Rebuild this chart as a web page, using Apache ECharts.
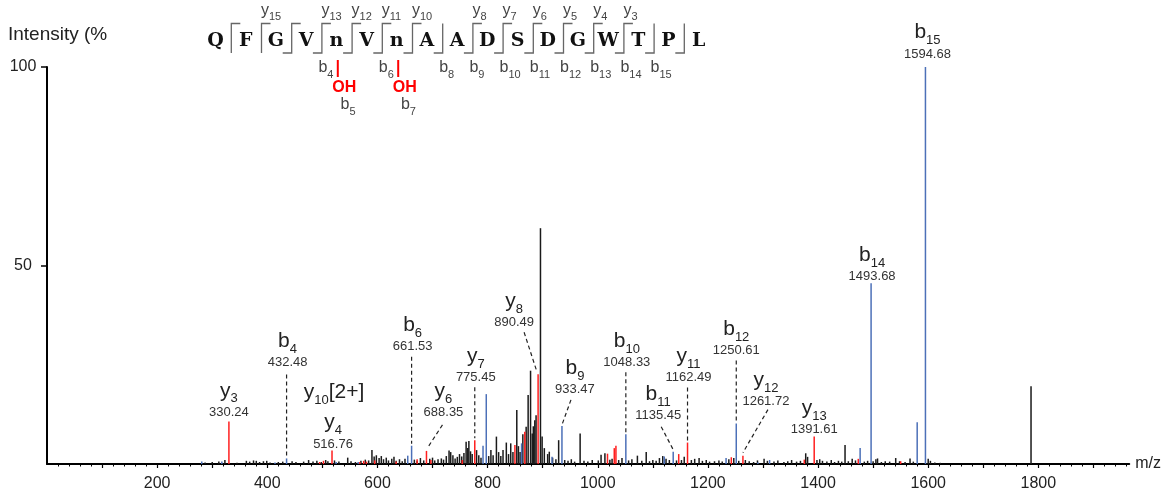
<!DOCTYPE html>
<html><head><meta charset="utf-8">
<script src="https://cdn.jsdelivr.net/npm/echarts@6/dist/echarts.min.js"></script>
<style>html,body{margin:0;padding:0;background:#fff}#main{width:1164px;height:495px}</style>
</head><body><div id="main"></div>
<script>
// ---------------- DATA ----------------
const xTickValues = [100,200,300,400,500,600,700,800,900,1000,1100,1200,1300,1400,1500,1600,1700,1800,1900];
const xLabelValues = [200,400,600,800,1000,1200,1400,1600,1800];
const yLabelValues = [50,100];

const blackPeaks = [[287,0.4],[300,0.5],[312,0.6],[323,1.0],[345,0.3],[362,0.8],[368,0.6],[375,0.9],[380,0.8],[386,0.5],[393,0.7],[399,0.8],[405,0.4],[420,0.5],[428,0.6],[445,0.7],[452,0.5],[466,0.6],[475,1.0],[483,0.6],[490,0.8],[498,0.5],[506,1.0],[510,0.7],[522,0.9],[530,0.6],[546,1.6],[552,0.7],[560,0.5],[570,0.8],[578,1.1],[584,0.9],[590,3.5],[594,1.9],[598,2.2],[603,1.5],[607,2.0],[611,1.2],[616,1.6],[620,0.9],[626,1.3],[630,1.8],[634,0.8],[640,1.2],[645,0.7],[650,1.3],[667,1.1],[672,0.8],[678,1.5],[684,0.9],[695,1.3],[700,1.6],[704,0.9],[710,1.2],[716,1.4],[720,1.1],[725,2.0],[730,3.4],[733,3.0],[737,2.2],[741,1.4],[745,1.8],[749,2.5],[753,1.9],[757,2.8],[761,5.6],[764,4.0],[766,5.8],[769,3.2],[772,2.5],[780,3.5],[784,2.2],[788,1.6],[802,2.0],[806,3.5],[810,2.2],[816,6.9],[820,3.0],[824,2.0],[828,3.5],[834,5.4],[838,2.5],[842,5.2],[846,3.0],[853,13.6],[856,4.5],[859,3.0],[864,7.5],[870,9.4],[873.6,17.4],[878,23.5],[881,7.7],[883,9.5],[885.7,11.0],[888,12.3],[896,59.4],[899,6.9],[903,4.0],[909,2.5],[912,3.1],[918,1.6],[924,1.2],[929,6.0],[940,1.0],[946,0.8],[952,1.2],[958,0.6],[968,7.7],[975,0.8],[982,0.6],[990,1.0],[1001,0.9],[1006,2.3],[1013,2.7],[1022,1.1],[1026,1.3],[1038,1.0],[1044,1.5],[1056,0.9],[1062,1.2],[1072,2.1],[1080,0.8],[1088,3.0],[1094,0.7],[1100,1.0],[1106,0.8],[1112,1.5],[1118,2.0],[1124,1.3],[1130,1.0],[1143,0.9],[1152,1.0],[1157,1.8],[1170,1.0],[1176,1.3],[1184,1.5],[1190,0.8],[1197,1.0],[1203,0.6],[1212,0.7],[1220,0.9],[1226,0.6],[1238,1.2],[1247,1.5],[1256,0.8],[1268,1.0],[1275,0.7],[1283,0.5],[1290,0.9],[1302,1.3],[1308,0.8],[1320,0.6],[1327,0.9],[1338,0.5],[1345,0.7],[1352,1.0],[1361,0.6],[1368,0.8],[1377.6,2.7],[1381,1.8],[1398,1.0],[1403,1.2],[1408,0.8],[1416,0.6],[1424,1.0],[1430,0.5],[1437,0.8],[1443,0.6],[1449,4.8],[1455,0.7],[1462,1.3],[1468,0.9],[1484,0.6],[1490,0.8],[1500,0.7],[1505,1.2],[1508,1.4],[1515,0.5],[1522,0.7],[1530,0.6],[1541,1.5],[1548,0.7],[1558,0.5],[1567,1.4],[1573,0.6],[1600,1.3],[1604,0.8],[1612,0.4],[1622,0.3],[1786.7,19.6]];

const redPeaks = [[330.3,10.7],[495,0.5],[502,0.8],[517.5,3.4],[568,0.5],[575,0.8],[580,0.6],[595,0.9],[634,0.6],[672,1.2],[689,3.3],[697,1.0],[754,1.0],[776.7,6.0],[849.6,4.8],[867.5,8.1],[891.7,22.6],[1017.7,2.6],[1030,4.0],[1033,4.6],[1147,2.5],[1163,5.4],[1242.5,1.7],[1263.6,2.1],[1375,1.1],[1393,6.9],[1473,1.3],[1550,0.7]];

const bluePeaks = [[281,0.6],[317.5,0.6],[414,0.4],[435,1.4],[525,0.5],[565,0.5],[655,2.1],[662,4.6],[791.7,4.6],[797.6,17.6],[861.7,5.2],[917,1.8],[935,9.6],[1051,7.5],[1120.8,1.9],[1137,3.1],[1233,1.5],[1251.5,10.2],[1290.7,0.4],[1312,1.0],[1476.4,4.0],[1496.3,45.5],[1580,10.5],[1595,100]];

// annotated ions
const annotIon    = ['y','b','y','y','b','y','y','y','b','b','b','y','b','y','y','b','b'];
const annotSub    = ['3','4','4','10','6','6','7','8','9','10','11','11','12','12','13','14','15'];
const annotSuffix = ['','','','[2+]','','','','','','','','','','','','',''];
const annotValue  = ['330.24','432.48','516.76','','661.53','688.35','775.45','890.49','933.47','1048.33','1135.45','1162.49','1250.61','1261.72','1391.61','1493.68','1594.68'];
const annotPeakMz = [330.3,435,517.5,517.5,662,689,776.7,891.7,935,1051,1137,1163,1251.5,1263.6,1393,1496.3,1595];
const annotPeakInt= [10.7,1.4,3.4,3.4,4.6,3.3,6.0,22.6,9.6,7.5,3.1,5.4,10.2,2.1,6.9,45.5,100];

// peptide sequence header
const seqLetters = ['Q','F','G','V','n','V','n','A','A','D','S','D','G','W','T','P','L'];
const yIonSubs = ['','15','','13','12','11','10','','8','7','6','5','4','3','',''];
const bIonSubs = ['','','','4','','6','','8','9','10','11','12','13','14','15',''];
const hasYTick = [1,1,1,1,1,1,1,0,1,1,1,1,1,1,0,0];
const hasBTick = [0,0,1,1,1,1,1,1,1,1,1,1,1,1,1,1];
const modResidues = [4,6];
const modLabel = 'OH';
const modBSubs = ['5','7'];

// ---------------- LAYOUT (pixels, not data) ----------------
const labelOffset = [[0,-9.5],[1,-96],[1,-6.5],[2,-36.5],[1,-99],[17,-38],[1,-63],[-24,-52],[13,-36],[1,-72],[-15,-36],[1,-65],[0,-73],[23,-54],[0,-7],[1,-6.5],[2,-13]];
const leaderLine = [null,[0,-84,0,-2],null,null,[0,-89,0,-2],[16,-26,1,-3],[0,-53,0,-2],[-14,-42,-1,-2],[9,-26,0,-1],[0,-62,0,-2],[-12,-25,0,-2],[0,-55,0,-2],[0,-63,0,-2],[25,-46,0,-3],null,null,null];

const SANS = '"Liberation Sans", Arial, sans-serif';
const SERIF = '"DejaVu Serif", serif';
const mctx = document.createElement('canvas').getContext('2d');
function tw(t, font){ mctx.font = font; return mctx.measureText(t).width; }
function txt(t, x, y, font, color, align, sx){
  const a = align || 'left';
  const el = {type:'text', silent:true, x:x, y:y,
    style:{text:t, font:font, fill:color, align:a, textAlign:a, verticalAlign:'middle', textVerticalAlign:'middle'}};
  if (sx) el.scaleX = sx;
  return el;
}
function ionLabel(cx, V, ion, sub, suffix, value){
  const fL = '21px '+SANS, fS = '13px '+SANS, fV = '13px '+SANS;
  const wL = tw(ion,fL), wS = tw(sub,fS), wX = suffix ? tw(suffix,fL) : 0;
  const x0 = cx - (wL+wS+wX)/2;
  const els = [txt(ion, x0, V-21.3, fL, '#222'), txt(sub, x0+wL, V-13.2, fS, '#222')];
  if (suffix) els.push(txt(suffix, x0+wL+wS, V-21.3, fL, '#222'));
  if (value) els.push(txt(value, cx, V, fV, '#333', 'center'));
  return els;
}

// ---------------- HEADER GRAPHICS ----------------
const graphics = [];
graphics.push(txt('Intensity (%', 8, 34.5, '19px '+SANS, '#222'));
const letterX = i => 215.5 + 30.2*i;
const brX = k => 231.3 + 30.2*k;
seqLetters.forEach((L,i)=>{
  graphics.push(txt(L, letterX(i), 41, 'bold 19px '+SERIF, '#111', 'center'));
});
for (let k=0;k<seqLetters.length-1;k++){
  const bx = brX(k);
  const pts = [];
  if (hasBTick[k]) pts.push([bx-9,53]);
  pts.push([bx,53],[bx,23.5]);
  if (hasYTick[k]) pts.push([bx+9,23.5]);
  graphics.push({type:'polyline', silent:true, shape:{points:pts}, style:{stroke:'#666', lineWidth:1.3, fill:null}});
  const fy='16px '+SANS, fs='11px '+SANS;
  if (yIonSubs[k]){
    graphics.push(txt('y', bx-0.5, 11, fy, '#444'));
    graphics.push(txt(yIonSubs[k], bx-0.5+tw('y',fy), 16.5, fs, '#444'));
  }
  if (bIonSubs[k]){
    graphics.push(txt('b', bx-3.5, 67.5, fy, '#444'));
    graphics.push(txt(bIonSubs[k], bx-3.5+tw('b',fy), 74.5, fs, '#444'));
  }
}
modResidues.forEach((ri,j)=>{
  const lx = letterX(ri);
  graphics.push({type:'line', silent:true, shape:{x1:lx+1.5,y1:60,x2:lx+1.5,y2:77}, style:{stroke:'#f00', lineWidth:2}});
  graphics.push(txt(modLabel, lx+8, 87.8, 'bold 16px '+SANS, '#f00', 'center'));
  const fb='16px '+SANS, fs='11px '+SANS;
  const w = tw('b',fb)+tw(modBSubs[j],fs);
  const x0 = lx+11.7-w/2;
  graphics.push(txt('b', x0, 104.3, fb, '#444'));
  graphics.push(txt(modBSubs[j], x0+tw('b',fb), 111.5, fs, '#444'));
});

// ---------------- SERIES ----------------
function peakSeries(name, data, color, z){
  return {type:'custom', name:name, data:data, z:z, clip:false, encode:{x:0,y:1},
    renderItem:(params, api)=>{
      const x = api.value(0), y = api.value(1);
      const top = api.coord([x,y]); const base = api.coord([x,0]);
      return {type:'line', silent:true, shape:{x1:top[0],y1:base[1],x2:top[0],y2:top[1]}, style:{stroke:color, lineWidth:1.5}};
    }};
}
const annotData = annotPeakMz.map((m,i)=>[m, annotPeakInt[i]]);
const annotSeries = {type:'custom', name:'labels', data:annotData, z:10, clip:false, encode:{x:0,y:1},
  renderItem:(params, api)=>{
    const i = params.dataIndex;
    const p = api.coord([api.value(0), api.value(1)]);
    const off = labelOffset[i];
    const children = ionLabel(p[0]+off[0], p[1]+off[1], annotIon[i], annotSub[i], annotSuffix[i], annotValue[i]);
    const l = leaderLine[i];
    if (l) children.push({type:'line', silent:true, shape:{x1:p[0]+l[0], y1:p[1]+l[1], x2:p[0]+l[2], y2:p[1]+l[3]},
      style:{stroke:'#222', lineWidth:1.2, lineDash:[4,3]}});
    return {type:'group', children:children};
  }};

const FAMILY = 'Liberation Sans, Arial, sans-serif';
const chart = echarts.init(document.getElementById('main'), null, {renderer:'canvas'});
chart.setOption({
  animation:false,
  backgroundColor:'#fff',
  grid:{left:47, right:31, top:67, bottom:31, containLabel:false},
  xAxis:{type:'value', min:0, max:1965, interval:100,
    axisLine:{show:true, onZero:false, lineStyle:{color:'#000', width:2}},
    axisTick:{show:true, length:4, customValues:xTickValues, lineStyle:{color:'#000', width:1.2}},
    minorTick:{show:true, splitNumber:5, length:2.5, lineStyle:{color:'#000', width:1}},
    axisLabel:{customValues:xLabelValues, formatter:v=>String(v), fontSize:16, color:'#222', margin:12, fontFamily:FAMILY},
    splitLine:{show:false}, minorSplitLine:{show:false},
    name:'m/z', nameLocation:'end', nameGap:6,
    nameTextStyle:{fontSize:16, color:'#222', fontFamily:FAMILY}},
  yAxis:{type:'value', min:0, max:100, interval:50,
    axisLine:{show:true, lineStyle:{color:'#000', width:2}},
    axisTick:{show:true, length:6, customValues:yLabelValues, lineStyle:{color:'#000', width:1.5}},
    axisLabel:{customValues:yLabelValues, formatter:v=>String(v), align:'center', fontSize:16, color:'#222', margin:24, fontFamily:FAMILY},
    splitLine:{show:false}},
  series:[
    peakSeries('other', blackPeaks, '#1a1a1a', 2),
    peakSeries('y ions', redPeaks, '#ff1f1f', 3),
    peakSeries('b ions', bluePeaks, '#4c70b8', 4),
    annotSeries
  ],
  graphic:graphics
});
</script></body></html>
